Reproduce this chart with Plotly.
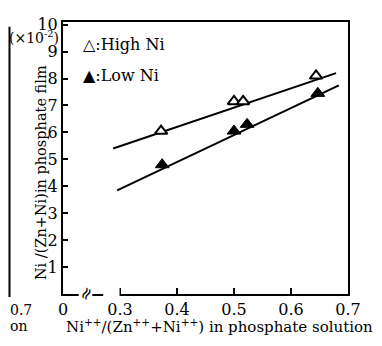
import plotly.graph_objects as go

# ---- data ----
high_x = [0.372, 0.500, 0.516, 0.644]
high_y = [6.05, 7.15, 7.15, 8.10]
low_x = [0.374, 0.500, 0.523, 0.647]
low_y = [4.80, 6.05, 6.30, 7.45]

# drawn trend lines (end points)
high_line_x = [0.288, 0.679]
high_line_y = [5.40, 8.20]
low_line_x = [0.295, 0.684]
low_line_y = [3.85, 7.75]

x_tick_vals = [0.2, 0.3, 0.4, 0.5, 0.6, 0.7]
x_tick_text = ["0", "0.3", "0.4", "0.5", "0.6", "0.7"]
y_tick_vals = [1, 2, 3, 4, 5, 6, 7, 8, 9, 10]

FONT = "DejaVu Serif"
W, H = 382, 346
OFF = 8  # the page body adds an 8 px margin around the figure
# plot area in page pixels: left 63, right 348, top 15, bottom 294
L, T = 63 - OFF, 15 - OFF
R = W - (348 - OFF)
B = H - (294 - OFF)
PW, PH = W - L - R, H - T - B


def px(xp):
    return (xp - OFF - L) / PW


def py(yp):
    return (H - B - (yp - OFF)) / PH


fig = go.Figure()
fig.add_trace(go.Scatter(x=high_line_x, y=high_line_y, mode="lines",
                         line=dict(color="black", width=2), showlegend=False, hoverinfo="skip"))
fig.add_trace(go.Scatter(x=low_line_x, y=low_line_y, mode="lines",
                         line=dict(color="black", width=2), showlegend=False, hoverinfo="skip"))
fig.add_trace(go.Scatter(x=high_x, y=high_y, mode="markers", name="High Ni",
                         marker=dict(symbol="triangle-up", size=11, color="white",
                                     line=dict(color="black", width=2))))
fig.add_trace(go.Scatter(x=low_x, y=low_y, mode="markers", name="Low Ni",
                         marker=dict(symbol="triangle-up", size=12, color="black",
                                     line=dict(color="black", width=1))))

fig.update_layout(
    width=W, height=H,
    margin=dict(l=L, r=R, t=T, b=B),
    plot_bgcolor="white", paper_bgcolor="white",
    showlegend=False,
    font=dict(family=FONT, color="black", size=16),
)
fig.update_xaxes(range=[0.2, 0.7], tickvals=x_tick_vals, ticktext=x_tick_text,
                 ticks="inside", ticklen=6, tickwidth=1.5, tickcolor="black",
                 showline=True, linecolor="black", linewidth=2, mirror=True,
                 showgrid=False, zeroline=False, tickfont=dict(size=16, family=FONT))
fig.update_yaxes(range=[0, 10.1], tickvals=y_tick_vals,
                 ticks="inside", ticklen=5, tickwidth=1.5, tickcolor="black",
                 showline=True, linecolor="black", linewidth=2, mirror=True,
                 showgrid=False, zeroline=False, tickfont=dict(size=16, family=FONT))

# axis break on the x axis
fig.add_shape(type="rect", xref="x", yref="paper", x0=0.2275, x1=0.2515, y0=-0.03, y1=0.03,
              fillcolor="white", line=dict(width=0), layer="above")
fig.add_shape(type="rect", xref="x", yref="paper", x0=0.2705, x1=0.2992, y0=-0.03, y1=0.03,
              fillcolor="white", line=dict(width=0), layer="above")
fig.add_annotation(x=0.2395, y=0, xref="x", yref="y", text="≈", showarrow=False,
                   textangle=-62, font=dict(size=17, family="DejaVu Sans"))

# multiplier
fig.add_annotation(x=px(61), y=py(30), xref="paper", yref="paper",
                   text="(×10<sup>-2</sup>)", showarrow=False, xanchor="right", yanchor="middle",
                   font=dict(size=14))

# legend as text
fig.add_annotation(x=px(81), y=py(38), xref="paper", yref="paper", text="△:High Ni",
                   showarrow=False, xanchor="left", yanchor="middle", font=dict(size=16))
fig.add_annotation(x=px(81), y=py(70), xref="paper", yref="paper", text="▲:Low Ni",
                   showarrow=False, xanchor="left", yanchor="middle", font=dict(size=16))

# axis titles
fig.add_annotation(x=px(219), y=py(327), xref="paper", yref="paper",
                   text="Ni<sup>++</sup>/(Zn<sup>++</sup>+Ni<sup>++</sup>) in phosphate solution",
                   showarrow=False, xanchor="center", yanchor="middle", font=dict(size=15))
fig.add_annotation(x=px(41), y=py(170), xref="paper", yref="paper",
                   text="Ni /(Zn+Ni)in phosphate film", textangle=-90,
                   showarrow=False, xanchor="center", yanchor="middle", font=dict(size=14.5))

# remnants of the neighbouring panel at the left edge
fig.add_shape(type="line", xref="paper", yref="paper", x0=px(9.5), x1=px(9.5), y0=py(20), y1=py(297),
              line=dict(color="black", width=2))
fig.add_annotation(x=px(8), y=py(310), xref="paper", yref="paper", text="0.7",
                   showarrow=False, xanchor="left", yanchor="middle", font=dict(size=14))
fig.add_annotation(x=px(8), y=py(327), xref="paper", yref="paper", text="on",
                   showarrow=False, xanchor="left", yanchor="middle", font=dict(size=14))

fig.write_html("out.html")
